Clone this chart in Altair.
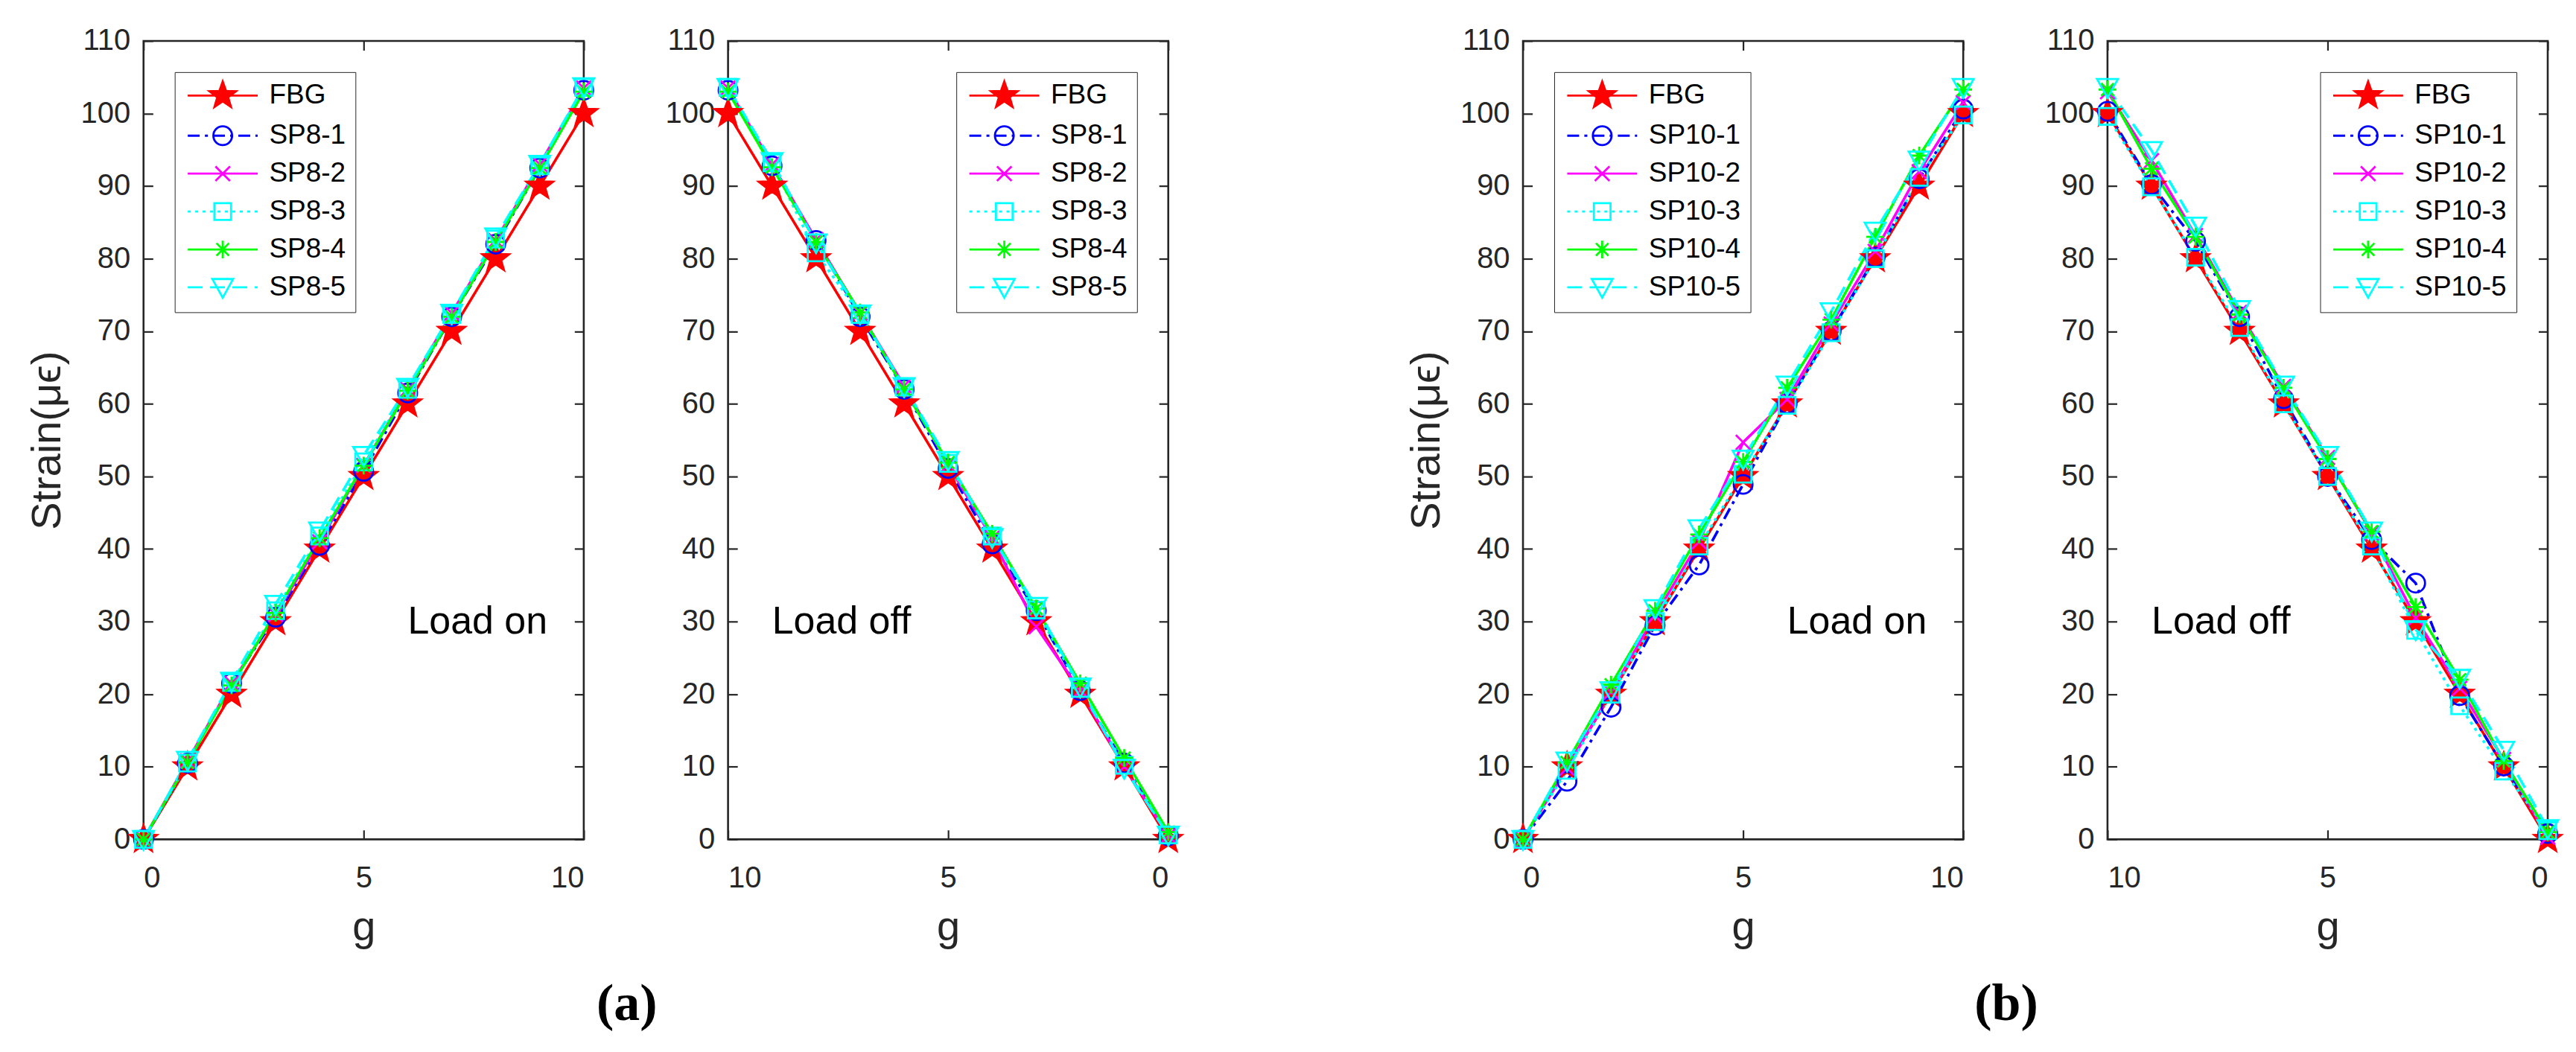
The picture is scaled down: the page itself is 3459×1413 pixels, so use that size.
"""Strain vs. load (g) for FBG and SP8 / SP10 sensors, load on and load off."""

import math

import altair as alt
import pandas as pd

# -- values ------------------------------------------------------------------
G_UP = [0, 1, 2, 3, 4, 5, 6, 7, 8, 9, 10]
G_DOWN = [10, 9, 8, 7, 6, 5, 4, 3, 2, 1, 0]
G_TICKS = [0, 5, 10]
STRAIN_TICKS = [0, 10, 20, 30, 40, 50, 60, 70, 80, 90, 100, 110]

SP8_NAMES = ["FBG", "SP8-1", "SP8-2", "SP8-3", "SP8-4", "SP8-5"]
SP10_NAMES = ["FBG", "SP10-1", "SP10-2", "SP10-3", "SP10-4", "SP10-5"]

FBG_UP = [0, 10, 20, 30, 40, 50, 60, 70, 80, 90, 100]
FBG_DOWN = [100, 90, 80, 70, 60, 50, 40, 30, 20, 10, 0]

# (a) load on, g = 0..10
SP8_UP_1 = [0, 10.5, 21.5, 30.6, 40.5, 50.7, 61.5, 72.0, 82.0, 92.5, 103.2]
SP8_UP_2 = [0, 10.8, 21.5, 31.0, 41.0, 51.5, 62.0, 72.5, 82.5, 93.0, 103.5]
SP8_UP_3 = [0, 10.5, 21.6, 31.5, 41.8, 52.0, 62.0, 72.3, 82.7, 92.8, 103.6]
SP8_UP_4 = [0, 10.6, 21.2, 31.2, 41.5, 51.5, 61.8, 72.0, 82.3, 92.5, 103.0]
SP8_UP_5 = [0, 10.9, 21.8, 32.4, 42.5, 52.9, 62.3, 72.5, 83.0, 93.0, 103.7]

# (a) load off, g = 10..0
SP8_DOWN_1 = [103.2, 92.8, 82.5, 72.0, 62.0, 51.1, 40.7, 31.5, 20.5, 10.5, 0.5]
SP8_DOWN_2 = [103.5, 93.0, 82.6, 72.5, 62.5, 51.6, 41.5, 29.3, 20.5, 10.0, 0.5]
SP8_DOWN_3 = [103.6, 93.2, 80.8, 72.3, 62.3, 51.8, 41.8, 31.6, 20.8, 10.2, 0.6]
SP8_DOWN_4 = [103.0, 92.6, 82.3, 72.6, 62.0, 51.9, 42.1, 31.8, 21.5, 11.2, 1.0]
SP8_DOWN_5 = [103.6, 93.4, 82.2, 72.4, 62.4, 52.2, 41.6, 32.1, 21.0, 9.8, 0.6]

# (b) load on, g = 0..10
SP10_UP_1 = [0, 8.0, 18.2, 29.5, 37.8, 48.9, 60.0, 70.0, 80.2, 91.0, 100.6]
SP10_UP_2 = [0, 9.8, 20.3, 30.8, 41.0, 54.7, 60.6, 71.0, 81.0, 92.0, 101.5]
SP10_UP_3 = [0, 9.5, 20.0, 30.0, 40.4, 50.3, 59.8, 69.8, 80.0, 91.2, 99.8]
SP10_UP_4 = [0, 10.6, 21.3, 31.5, 42.0, 52.0, 62.2, 71.6, 83.0, 94.2, 103.3]
SP10_UP_5 = [0, 10.8, 20.5, 31.8, 42.8, 52.4, 62.6, 72.7, 83.8, 93.6, 103.6]

# (b) load off, g = 10..0
SP10_DOWN_1 = [100.3, 90.2, 82.4, 72.0, 60.7, 50.0, 41.3, 35.3, 19.8, 10.1, 0.8]
SP10_DOWN_2 = [103.0, 93.5, 83.2, 72.6, 62.4, 52.6, 42.2, 30.5, 20.8, 11.0, 0.3]
SP10_DOWN_3 = [99.6, 89.9, 80.2, 70.5, 60.0, 50.0, 40.4, 28.8, 18.4, 9.4, 1.2]
SP10_DOWN_4 = [103.3, 92.4, 83.0, 72.3, 62.2, 52.4, 42.4, 32.0, 22.0, 10.8, 1.0]
SP10_DOWN_5 = [103.6, 94.9, 84.5, 73.0, 62.6, 52.9, 42.5, 28.9, 22.2, 12.3, 1.5]

# -- styling -----------------------------------------------------------------
FONT = "Arial"
AX = "#262626"
COLORS = ["#ff0000", "#0000ff", "#ff00ff", "#00ffff", "#00ff00", "#00ffff"]
DASHES = [[1, 0], [16, 7, 4, 7], [1, 0], [4, 6], [1, 0], [20, 10]]
FILLS = ["#ff0000", "transparent", "transparent", "transparent", "transparent", "transparent"]

W, H = 592, 1074
TICK = 12.6
U = 14.0              # px per symbol unit (vega scales paths by sqrt(size)/2)
SYM = (2 * U) ** 2
LEG_HALF = 47.0       # half length of the legend line sample, px
SHIFT = LEG_HALF / U - 1.0
OWN_SCALES = dict(color="independent", shape="independent",
                  fill="independent", strokeDash="independent")


def p(x, y):
    return f"{x:.3f},{y:.3f}"


def star(cx=0.0, k=1.0):
    pts = []
    for i in range(10):
        ang = -math.pi / 2 + i * math.pi / 5
        r = (1.35 if i % 2 == 0 else 0.55) * k
        pts.append(p(cx + r * math.cos(ang), r * math.sin(ang)))
    return "M" + "L".join(pts) + "Z"


def star_solid(cx=0.0):
    # nested outlines, so the legend star reads as filled
    return "".join(star(cx, k) for k in (1.0, 0.82, 0.64, 0.46, 0.28, 0.12))


def circle(cx=0.0, r=0.9):
    return f"M{p(cx + r, 0)}A{r},{r} 0 1,1 {p(cx - r, 0)}A{r},{r} 0 1,1 {p(cx + r, 0)}Z"


def xmark(cx=0.0, h=0.7):
    return f"M{p(cx - h, -h)}L{p(cx + h, h)}M{p(cx - h, h)}L{p(cx + h, -h)}"


def square(cx=0.0, h=0.8):
    return f"M{p(cx - h, -h)}L{p(cx + h, -h)}L{p(cx + h, h)}L{p(cx - h, h)}Z"


def asterisk(cx=0.0, h=0.85):
    d = h * 0.7071
    return (f"M{p(cx - h, 0)}L{p(cx + h, 0)}M{p(cx, -h)}L{p(cx, h)}"
            f"M{p(cx - d, -d)}L{p(cx + d, d)}M{p(cx - d, d)}L{p(cx + d, -d)}")


def tri_down(cx=0.0, w=1.0):
    return f"M{p(cx - w, -0.8)}L{p(cx + w, -0.8)}L{p(cx, 1.0)}Z"


MARKERS = [star, circle, xmark, square, asterisk, tri_down]
LEGEND_MARKERS = [star_solid, circle, xmark, square, asterisk, tri_down]


def legend_line(dash):
    # the line sample drawn as real segments so the marker itself stays solid
    segs, pos, i = [], -LEG_HALF, 0
    while pos < LEG_HALF:
        step = dash[i % len(dash)]
        if i % 2 == 0 and step > 0:
            segs.append((pos, min(pos + step, LEG_HALF)))
        pos += step
        i += 1
    return "".join(f"M{p(a / U + SHIFT, 0)}L{p(b / U + SHIFT, 0)}" for a, b in segs)


def panel(g, names, values, reverse, note, note_g, y_title, corner):
    rows = [
        {"g": gi, "strain": v, "series": name}
        for name, vals in zip(names, values)
        for gi, v in zip(g, vals)
    ]
    df = pd.DataFrame(rows)
    note_df = pd.DataFrame({"g": [note_g], "strain": [30], "label": [note]})

    xs = alt.Scale(domain=[0, 10], reverse=reverse, nice=False)
    ys = alt.Scale(domain=[0, 110], nice=False)
    color_scale = alt.Scale(domain=names, range=COLORS)

    bottom = alt.Axis(values=G_TICKS, orient="bottom", offset=-TICK, tickSize=TICK,
                      domain=False, labelPadding=32, title="g", titlePadding=19)
    top = alt.Axis(values=G_TICKS, orient="top", offset=-TICK, tickSize=TICK,
                   domain=False, labels=False, title=None)
    left_kw = dict(values=STRAIN_TICKS, orient="left", offset=-TICK, tickSize=TICK,
                   domain=False, labelPadding=18)
    if y_title:
        left = alt.Axis(title=y_title, titlePadding=16, **left_kw)
    else:
        left = alt.Axis(title=None, **left_kw)
    right = alt.Axis(values=STRAIN_TICKS, orient="right", offset=-TICK, tickSize=TICK,
                     domain=False, labels=False, title=None)

    # -- lines ----------------------------------------------------------------
    lines = alt.Chart(df).mark_line(strokeWidth=3.6).encode(
        x=alt.X("g:Q", scale=xs, axis=bottom),
        y=alt.Y("strain:Q", scale=ys, axis=left),
        color=alt.Color("series:N", scale=color_scale, legend=None),
        strokeDash=alt.StrokeDash("series:N", scale=alt.Scale(domain=names, range=DASHES),
                                  legend=None),
    )

    # -- markers --------------------------------------------------------------
    points = alt.Chart(df).mark_point(filled=False, size=SYM, strokeWidth=2.8, opacity=1).encode(
        x=alt.X("g:Q", scale=xs, axis=top),
        y=alt.Y("strain:Q", scale=ys, axis=right),
        color=alt.Color("series:N", scale=color_scale, legend=None),
        shape=alt.Shape("series:N", scale=alt.Scale(domain=names, range=[m() for m in MARKERS]),
                        legend=None),
        fill=alt.Fill("series:N", scale=alt.Scale(domain=names, range=FILLS), legend=None),
    )

    # -- legend: no marks of its own, symbols are "line + marker" paths -------
    legend = alt.Legend(
        title=None, orient=corner, offset=42, zindex=1,
        fillColor="white", strokeColor=AX,
        padding=13, rowPadding=13,
        labelFont=FONT, labelFontSize=37, labelColor="black", labelOffset=77,
        symbolSize=SYM, symbolStrokeWidth=2.8, symbolOpacity=1,
    )
    leg_shapes = [m(SHIFT) + legend_line(d) for m, d in zip(LEGEND_MARKERS, DASHES)]
    key = alt.Chart(df).transform_filter("false").mark_point(
        filled=False, size=SYM, strokeWidth=2.8
    ).encode(
        x=alt.X("g:Q", scale=xs, axis=None),
        y=alt.Y("strain:Q", scale=ys, axis=None),
        color=alt.Color("series:N", scale=color_scale, legend=legend),
        shape=alt.Shape("series:N", scale=alt.Scale(domain=names, range=leg_shapes),
                        legend=legend),
    )

    # -- "Load on" / "Load off" -----------------------------------------------
    text = alt.Chart(note_df).mark_text(
        align="left", baseline="middle", font=FONT, fontSize=52, color="black"
    ).encode(
        x=alt.X("g:Q", scale=xs, axis=None),
        y=alt.Y("strain:Q", scale=ys, axis=None),
        text="label:N",
    )

    return (
        alt.layer(lines, points, key, text)
        .resolve_scale(color="independent", shape="independent")
        .resolve_axis(x="independent", y="independent")
        .properties(width=W, height=H)
    )


def group(left, right, label):
    return (
        alt.hconcat(left, right, spacing=82)
        .resolve_scale(**OWN_SCALES)
        .properties(
            title=alt.TitleParams(
                text=label, orient="bottom", anchor="middle", offset=41, dx=28,
                font="Liberation Serif", fontSize=70, fontWeight="bold", color="black",
            )
        )
    )


def main() -> None:
    y_title = "Strain(\u03bc\u03f5)"
    a1 = panel(G_UP, SP8_NAMES, [FBG_UP, SP8_UP_1, SP8_UP_2, SP8_UP_3, SP8_UP_4, SP8_UP_5],
               False, "Load on", 6.0, y_title, "top-left")
    a2 = panel(G_DOWN, SP8_NAMES, [FBG_DOWN, SP8_DOWN_1, SP8_DOWN_2, SP8_DOWN_3, SP8_DOWN_4, SP8_DOWN_5],
               True, "Load off", 9.0, None, "top-right")
    b1 = panel(G_UP, SP10_NAMES, [FBG_UP, SP10_UP_1, SP10_UP_2, SP10_UP_3, SP10_UP_4, SP10_UP_5],
               False, "Load on", 6.0, y_title, "top-left")
    b2 = panel(G_DOWN, SP10_NAMES, [FBG_DOWN, SP10_DOWN_1, SP10_DOWN_2, SP10_DOWN_3, SP10_DOWN_4, SP10_DOWN_5],
               True, "Load off", 9.0, None, "top-right")

    chart = (
        alt.hconcat(group(a1, a2, "(a)"), group(b1, b2, "(b)"), spacing=292)
        .resolve_scale(**OWN_SCALES)
        .properties(padding={"left": 25, "top": 24, "right": 5, "bottom": 5}, background="white")
        .configure_view(stroke=AX, strokeWidth=2.6)
        .configure_axis(
            grid=False, labelFont=FONT, labelFontSize=40, labelColor=AX,
            tickColor=AX, tickWidth=2.2, titleFont=FONT, titleFontSize=56,
            titleFontWeight="normal", titleColor=AX,
        )
    )
    chart.save("out.html", embed_options={"renderer": "svg", "actions": False})


if __name__ == "__main__":
    main()
